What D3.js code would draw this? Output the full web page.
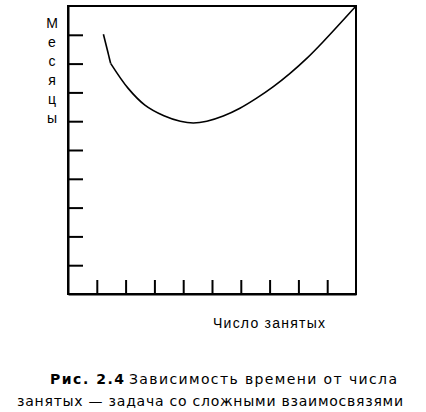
<!DOCTYPE html>
<html><head><meta charset="utf-8">
<script src="https://cdn.jsdelivr.net/npm/d3@7"></script>
<style>html,body{margin:0;padding:0;background:#fff;}svg{display:block;}</style>
</head><body>
<svg id="chart" width="426" height="412"></svg>
<script>
// Data (units: x = number of staff, y = months; both 0..10 scale, unlabeled)
const xTicks = [1,2,3,4,5,6,7,8,9];
const yTicks = [1,2,3,4,5,6,7,8,9];
const steepX = [1.23, 1.48];
const steepY = [9.02, 8.01];
const curveX = [1.48, 2.09, 2.67, 3.33, 3.9, 4.35, 4.82, 5.39, 5.97, 6.55, 7.13, 7.71, 8.29, 8.86, 10.0];
const curveY = [8.01, 7.14, 6.56, 6.19, 6.0, 5.94, 6.0, 6.18, 6.45, 6.80, 7.20, 7.66, 8.18, 8.76, 10.0];
const yLabelLetters = ["М","е","с","я","ц","ы"];
const xLabel = "Число занятых";
const captionBold = "Рис. 2.4";
const captionLine1 = "Зависимость времени от числа";
const captionLine2 = "занятых — задача со сложными взаимосвязями";

const svg = d3.select("#chart");
const x = d3.scaleLinear().domain([0,10]).range([68,356]);
const y = d3.scaleLinear().domain([0,10]).range([294,6]);

const sans = "'Liberation Sans', Arial, sans-serif";
const verd = "'DejaVu Sans', Verdana, sans-serif";

// frame
svg.append("rect").attr("x",x(0)).attr("y",y(10)).attr("width",x(10)-x(0)).attr("height",y(0)-y(10))
  .attr("fill","none").attr("stroke","#000").attr("stroke-width",2);

// axes with inward ticks
const gx = svg.append("g").attr("transform",`translate(0,${y(0)})`)
  .call(d3.axisBottom(x).tickValues(xTicks).tickSizeInner(-14).tickSizeOuter(0).tickFormat(""));
const gy = svg.append("g").attr("transform",`translate(${x(0)},0)`)
  .call(d3.axisLeft(y).tickValues(yTicks).tickSizeInner(-15).tickSizeOuter(0).tickFormat(""));
[gx,gy].forEach(g=>{
  g.select(".domain").attr("stroke","#000").attr("stroke-width",2);
  g.selectAll(".tick line").attr("stroke","#000").attr("stroke-width",2);
});

// curve
const lineLin = d3.line().x(d=>x(d[0])).y(d=>y(d[1])).curve(d3.curveLinear);
const lineSmooth = d3.line().x(d=>x(d[0])).y(d=>y(d[1])).curve(d3.curveCatmullRom.alpha(0.5));
svg.append("path").attr("d",lineLin(d3.zip(steepX,steepY)))
  .attr("fill","none").attr("stroke","#000").attr("stroke-width",1.6);
svg.append("path").attr("d",lineSmooth(d3.zip(curveX,curveY)))
  .attr("fill","none").attr("stroke","#000").attr("stroke-width",1.6);

// y label (vertical letters)
svg.append("g").selectAll("text").data(yLabelLetters).join("text")
  .attr("x",52).attr("y",(d,i)=>28+i*19)
  .attr("text-anchor","middle")
  .attr("font-family",sans).attr("font-size",14)
  .text(d=>d);

// x label
svg.append("text").attr("x",213).attr("y",328)
  .attr("font-family",sans).attr("font-size",14)
  .attr("textLength",112).attr("lengthAdjust","spacing")
  .text(xLabel);

// caption
svg.append("text").attr("x",50).attr("y",384)
  .attr("font-family",verd).attr("font-size",14).attr("font-weight","bold")
  .attr("textLength",74).attr("lengthAdjust","spacing")
  .text(captionBold);
svg.append("text").attr("x",129).attr("y",384)
  .attr("font-family",verd).attr("font-size",14)
  .attr("textLength",268).attr("lengthAdjust","spacing")
  .text(captionLine1);
svg.append("text").attr("x",17).attr("y",406)
  .attr("font-family",verd).attr("font-size",14)
  .attr("textLength",386).attr("lengthAdjust","spacing")
  .text(captionLine2);
</script>
</body></html>
